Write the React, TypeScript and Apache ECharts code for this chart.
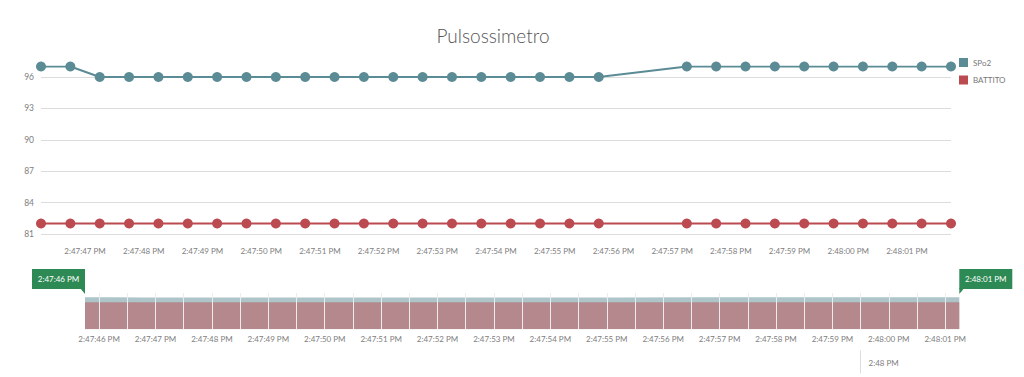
import React, { useEffect, useRef } from "react";
import * as echarts from "echarts";

// ---- data ----
const pointTimes = [
  "14:47:46.25", "14:47:46.75", "14:47:47.25", "14:47:47.75", "14:47:48.25",
  "14:47:48.75", "14:47:49.25", "14:47:49.75", "14:47:50.25", "14:47:50.75",
  "14:47:51.25", "14:47:51.75", "14:47:52.25", "14:47:52.75", "14:47:53.25",
  "14:47:53.75", "14:47:54.25", "14:47:54.75", "14:47:55.25", "14:47:55.75",
  "14:47:57.25", "14:47:57.75", "14:47:58.25", "14:47:58.75", "14:47:59.25",
  "14:47:59.75", "14:48:00.25", "14:48:00.75", "14:48:01.25", "14:48:01.75",
];
const spo2 = [
  97, 97, 96, 96, 96, 96, 96, 96, 96, 96,
  96, 96, 96, 96, 96, 96, 96, 96, 96, 96,
  97, 97, 97, 97, 97, 97, 97, 97, 97, 97,
];
const battito = [
  82, 82, 82, 82, 82, 82, 82, 82, 82, 82,
  82, 82, 82, 82, 82, 82, 82, 82, 82, 82,
  82, 82, 82, 82, 82, 82, 82, 82, 82, 82,
];
const seriesNames = ["SPo2", "BATTITO"];
const yTicks = [81, 84, 87, 90, 93, 96];
const yMin = 81;
const yMax = 97;
const mainTickTimes = [
  "14:47:47", "14:47:48", "14:47:49", "14:47:50", "14:47:51", "14:47:52", "14:47:53",
  "14:47:54", "14:47:55", "14:47:56", "14:47:57", "14:47:58", "14:47:59", "14:48:00", "14:48:01",
];
const navigatorTickTimes = [
  "14:47:46", "14:47:47", "14:47:48", "14:47:49", "14:47:50", "14:47:51", "14:47:52", "14:47:53",
  "14:47:54", "14:47:55", "14:47:56", "14:47:57", "14:47:58", "14:47:59", "14:48:00", "14:48:01",
];
const navigatorMinuteTimes = ["14:48:00"];
const selectionFrom = "14:47:46";
const selectionTo = "14:48:01";
const navigatorMax = 110;

// ---- helpers ----
const toSec = (s: string) => {
  const [h, m, sec] = s.split(":");
  return Number(h) * 3600 + Number(m) * 60 + Number(sec || 0);
};
const fmt = (v: number, withSeconds = true) => {
  const t = Math.round(v);
  const h = Math.floor(t / 3600);
  const m = Math.floor((t % 3600) / 60);
  const s = t % 60;
  const h12 = h % 12 || 12;
  const ap = h >= 12 ? "PM" : "AM";
  const mm = String(m).padStart(2, "0");
  const ss = String(s).padStart(2, "0");
  return withSeconds ? `${h12}:${mm}:${ss} ${ap}` : `${h12}:${mm} ${ap}`;
};

const TEAL = "#5b8b94";
const RED = "#bb4b50";
const FONT = "Lato";
const LABEL = "#7e7e7e";

export default function App() {
  const ref = useRef<HTMLDivElement>(null);
  useEffect(() => {
    document.body.style.margin = "0";
    if (!ref.current) return;
    const chart = echarts.init(ref.current, undefined, { renderer: "svg" });
    const xs = pointTimes.map(toSec);
    const spoData = xs.map((x, i) => [x, spo2[i]]);
    const batData = xs.map((x, i) => [x, battito[i]]);
    const xMin = xs[0];
    const xMax = xs[xs.length - 1];
    // navigator grid lines every half second between points
    const navLines: number[] = [];
    for (let v = xMin + 0.25; v < xMax; v += 0.5) navLines.push(v);
    const navLabelPos = navigatorTickTimes.map((t) => toSec(t) + 0.5);

    const labelStyle = { fontFamily: FONT, fontSize: 8, color: LABEL };

    const handle = (text: string, x: number, left: boolean) => ({
      type: "group",
      children: [
        { type: "rect", shape: { x, y: 269, width: 53, height: 20 }, style: { fill: "#2e8a54" } },
        {
          type: "polygon",
          shape: {
            points: left
              ? [[x + 48, 288], [x + 53, 288], [x + 53, 294]]
              : [[x, 288], [x + 5, 288], [x, 294]],
          },
          style: { fill: "#2e8a54" },
        },
        {
          type: "text",
          x: x + 26.5,
          y: 279,
          style: { text, fill: "#ffffff", font: `8px ${FONT}`, align: "center", verticalAlign: "middle" },
        },
      ],
    });

    chart.setOption({
      animation: false,
      title: {
        text: "Pulsossimetro",
        left: 488,
        top: 21,
        textAlign: "center",
        textStyle: { fontFamily: FONT, fontWeight: 300, fontSize: 19, color: "#555" },
      },
      legend: {
        orient: "vertical",
        left: 959,
        top: 58,
        padding: 0,
        itemWidth: 9,
        itemHeight: 9,
        itemGap: 8.5,
        icon: "rect",
        data: seriesNames,
        textStyle: { fontFamily: FONT, fontSize: 8, color: "#777" },
      },
      grid: [
        { left: 41, right: 73, top: 66.5, bottom: 143, containLabel: false },
        { left: 85, right: 64.7, top: 293, bottom: 47.7, containLabel: false },
      ],
      xAxis: [
        {
          type: "value",
          gridIndex: 0,
          min: xMin,
          max: xMax,
          axisLine: { show: false },
          axisTick: { show: false, customValues: mainTickTimes.map(toSec) },
          splitLine: { show: false },
          axisLabel: {
            ...labelStyle,
            margin: 13,
            customValues: mainTickTimes.map(toSec),
            formatter: (v: number) => fmt(v),
          },
        },
        {
          type: "value",
          gridIndex: 1,
          min: xMin,
          max: xMax,
          z: 5,
          axisLine: { show: false },
          axisTick: { show: false, customValues: navLines },
          splitLine: { show: true, lineStyle: { color: "#ececec", width: 1 } },
          axisLabel: {
            ...labelStyle,
            margin: 6,
            customValues: navLabelPos,
            formatter: (v: number) => fmt(v - 0.5),
          },
        },
        {
          type: "value",
          gridIndex: 1,
          min: xMin,
          max: xMax,
          position: "bottom",
          offset: 21,
          axisLine: { show: false },
          axisTick: {
            show: true,
            length: 23,
            customValues: navigatorMinuteTimes.map(toSec),
            lineStyle: { color: "#dddddd" },
          },
          splitLine: { show: false },
          axisLabel: {
            ...labelStyle,
            margin: 9,
            align: "left",
            padding: [0, 0, 0, 8],
            customValues: navigatorMinuteTimes.map(toSec),
            formatter: (v: number) => fmt(v, false),
          },
        },
      ],
      yAxis: [
        {
          type: "value",
          gridIndex: 0,
          min: yMin,
          max: yMax,
          interval: 3,
          axisLine: { show: false },
          axisTick: { show: false, customValues: yTicks },
          axisLabel: { ...labelStyle, fontSize: 8.5, margin: 7, customValues: yTicks },
          splitLine: { show: true, lineStyle: { color: "#dcdcdc" } },
        },
        {
          type: "value",
          gridIndex: 1,
          min: 0,
          max: navigatorMax,
          show: false,
        },
      ],
      series: [
        {
          name: seriesNames[0],
          type: "line",
          xAxisIndex: 0,
          yAxisIndex: 0,
          data: spoData,
          symbol: "circle",
          symbolSize: 10,
          color: TEAL,
          lineStyle: { width: 2, color: TEAL },
          itemStyle: { color: TEAL },
        },
        {
          name: seriesNames[1],
          type: "line",
          xAxisIndex: 0,
          yAxisIndex: 0,
          data: batData,
          symbol: "circle",
          symbolSize: 10,
          color: RED,
          lineStyle: { width: 2, color: RED },
          itemStyle: { color: RED },
        },
        {
          name: seriesNames[0],
          type: "line",
          xAxisIndex: 1,
          yAxisIndex: 1,
          data: spoData,
          showSymbol: false,
          symbol: "none",
          color: TEAL,
          lineStyle: { width: 0 },
          areaStyle: { color: TEAL, opacity: 0.5 },
          silent: true,
        },
        {
          name: seriesNames[1],
          type: "line",
          xAxisIndex: 1,
          yAxisIndex: 1,
          data: batData,
          showSymbol: false,
          symbol: "none",
          color: RED,
          lineStyle: { width: 0 },
          areaStyle: { color: RED, opacity: 0.5 },
          silent: true,
        },
      ],
      graphic: [handle(fmt(toSec(selectionFrom)), 32, true), handle(fmt(toSec(selectionTo)), 959.3, false)],
    });
    return () => chart.dispose();
  }, []);
  return <div ref={ref} style={{ width: 1024, height: 377 }} />;
}
